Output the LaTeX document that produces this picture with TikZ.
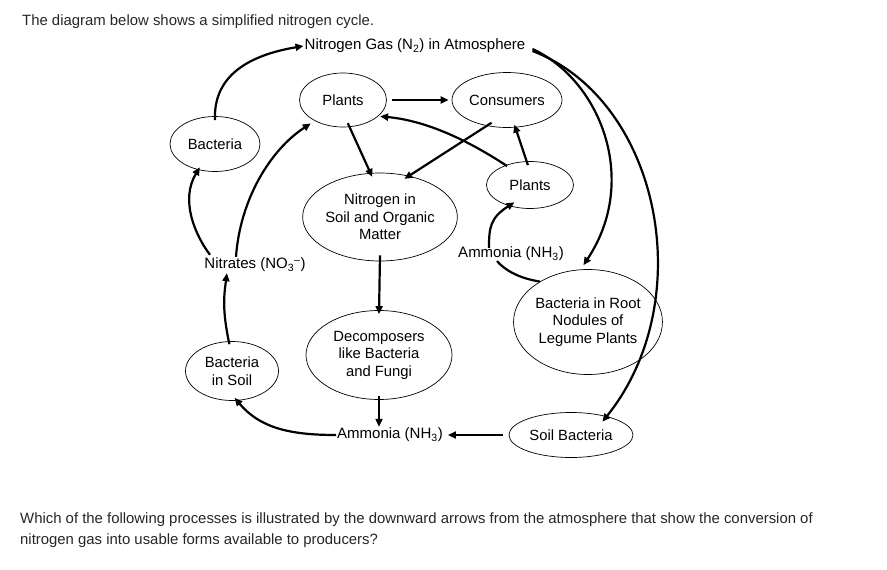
\documentclass[tikz,border=0pt]{standalone}
\usepackage{fontspec}
\setmainfont{Liberation Sans}
\usetikzlibrary{shapes.geometric,arrows.meta}
\begin{document}
\begin{tikzpicture}[x=1pt,y=-1pt,
  el/.style={ellipse,draw,line width=0.7pt,inner sep=0pt,align=center,font=\fontsize{14.8}{17.5}\selectfont},
  lbl/.style={inner sep=1pt,font=\fontsize{15}{17}\selectfont},
  arr/.style={line width=2.2pt,-{Triangle[length=8pt,width=7pt]}},
  txt/.style={anchor=west,inner sep=0pt,font=\fontsize{14.9}{17}\selectfont,text=black!85}]
\useasboundingbox (0,0) rectangle (887,570);
\node[txt] (title) at (22,22) {The diagram below shows a simplified nitrogen cycle.};
\node[lbl] (n2) at (415,46) {Nitrogen Gas (N\textsubscript{2}) in Atmosphere};
\node[el,minimum width=87,minimum height=54] (p1) at (343,100) {Plants};
\node[el,minimum width=110,minimum height=55] (cons) at (507,100) {Consumers};
\node[el,minimum width=90,minimum height=55] (bac) at (215,144) {Bacteria};
\node[el,minimum width=87,minimum height=47] (p2) at (530,185) {Plants};
\node[el,minimum width=147,minimum height=88] (nsoil) at (380,217) {Nitrogen in\\Soil and Organic\\Matter};
\node[lbl] (nit) at (255,265) {Nitrates (NO\textsubscript{3}\textsuperscript{--})};
\node[lbl] (am1) at (511,254) {Ammonia (NH\textsubscript{3})};
\node[el,minimum width=145,minimum height=105] (root) at (588,322) {Bacteria in Root\\Nodules of\\Legume Plants};
\node[el,minimum width=146,minimum height=89] (dec) at (379,355) {Decomposers\\like Bacteria\\and Fungi};
\node[el,minimum width=93,minimum height=59] (bsoil) at (232,371) {Bacteria\\in Soil};
\node[lbl] (am2) at (390,435) {Ammonia (NH\textsubscript{3})};
\node[el,minimum width=124,minimum height=45] (sbac) at (571,435) {Soil Bacteria};
\node[txt] (q1) at (20,520) {Which of the following processes is illustrated by the downward arrows from the atmosphere that show the conversion of};
\node[txt] (q2) at (20,541) {nitrogen gas into usable forms available to producers?};
% arrows
\draw[arr] ([yshift=-4pt]bac.north) .. controls (213,75) and (250,55) .. (n2.west);
\draw[arr] ([xshift=6pt,yshift=-3pt]n2.east) .. controls (600,80) and (640,180) .. ([yshift=4pt]root.95);
\draw[arr] ([xshift=6pt,yshift=-5pt]n2.east) .. controls (660,100) and (700,300) .. ([xshift=-2pt,yshift=-6pt]sbac.30);
\draw[arr] ([xshift=5pt]p1.east) -- ([xshift=-3pt]cons.west);
\draw[arr] ([xshift=-2pt,yshift=-2pt]p2.135) .. controls (460,135) and (420,120) .. ([xshift=2pt]p1.-25);
\draw[arr] ([yshift=4pt]cons.-120) -- ([yshift=-4pt]nsoil.60);
\draw[arr] ([yshift=4pt]p1.-80) -- ([yshift=-4pt]nsoil.100);
\draw[arr] ([yshift=-4pt]p2.95) -- ([yshift=3pt]cons.-75);
\draw[arr] ([xshift=-22pt,yshift=-2pt]am1.north) .. controls (489,228) and (490,218) .. ([yshift=5pt]p2.-125);
\draw[line width=2.2pt] (root.140) .. controls (518,278) and (505,270) .. ([xshift=-14pt,yshift=1pt]am1.south);
\draw[arr] ([yshift=6pt]nsoil.south) -- ([yshift=-4pt]dec.north);
\draw[arr] ([yshift=4pt]dec.south) -- (dec.south |- am2.north);
\draw[arr] ([xshift=-6pt]sbac.west) -- ([xshift=4pt]am2.east);
\draw[arr] (am2.west) .. controls (290,435) and (260,428) .. ([yshift=3pt]bsoil.-85);
\draw[arr] ([yshift=-3pt]bsoil.95) .. controls (222,310) and (224,295) .. ([xshift=-28pt]nit.south);
\draw[arr] ([xshift=-45pt,yshift=2pt]nit.north) .. controls (195,235) and (180,200) .. ([yshift=3pt]bac.-120);
\draw[arr] ([xshift=-19pt]nit.north) .. controls (240,200) and (270,150) .. ([xshift=-3pt,yshift=-3pt]p1.215);
\end{tikzpicture}
\end{document}
